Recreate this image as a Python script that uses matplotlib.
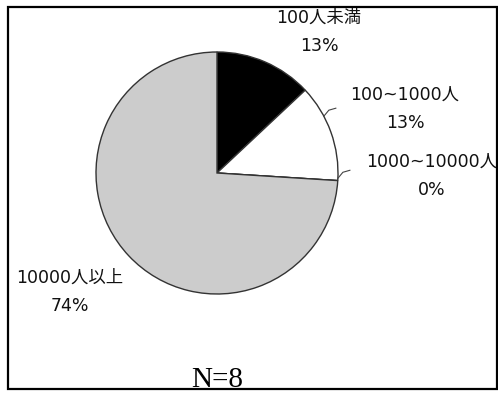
import numpy as np
import matplotlib.pyplot as plt
from matplotlib.patches import Rectangle

plt.rcParams['font.family'] = ['DejaVu Sans', 'Noto Sans CJK JP']

# company size breakdown (N=8)
categories = ['100人未満', '100~1000人', '1000~10000人', '10000人以上']
shares = [13, 13, 0, 74]
colors = ['black', 'white', 'white', '#cccccc']

W, H = 498, 394
fig = plt.figure(figsize=(W / 100, H / 100), dpi=100)
ax = fig.add_axes([0, 0, 1, 1])

cx, cy, r = 217, H - 173, 121
wedges, _ = ax.pie(shares, colors=colors, startangle=90, counterclock=False,
                   center=(cx, cy), radius=r, frame=True,
                   wedgeprops=dict(edgecolor='#333333', linewidth=1.0))
ax.set_xlim(0, W)
ax.set_ylim(0, H)
ax.set_aspect('equal')
ax.axis('off')

# outer frame
ax.add_patch(Rectangle((8, H - 389), 489, 382, fill=False, edgecolor='black',
                       linewidth=1.6, zorder=5))

# label positions (pixel centre of the name line) and leader line anchors
label_pos = [(319, 18), (405, 95), (432, 162), (70, 278)]
leader_ang = [None, 28, -2.5, None]
for name, val, (lx, ly), ang in zip(categories, shares, label_pos, leader_ang):
    ax.text(lx, H - ly, name, ha='center', va='center', fontsize=12.5,
            color='#111111')
    ax.text(lx, H - ly - 28, f'{val}%', ha='center', va='center',
            fontsize=12.5, color='#111111')
    if ang is not None:
        a = np.deg2rad(ang)
        x0, y0 = cx + r * np.cos(a), cy + r * np.sin(a)
        ax.plot([x0, x0 + 5, x0 + 12], [y0, y0 + 6, y0 + 8],
                color='#444444', lw=0.8)

ax.text(217, H - 387, 'N=8', ha='center', va='baseline', fontsize=21,
        family=['Liberation Serif', 'DejaVu Serif'], zorder=6)

fig.savefig('out.png', dpi=100)
